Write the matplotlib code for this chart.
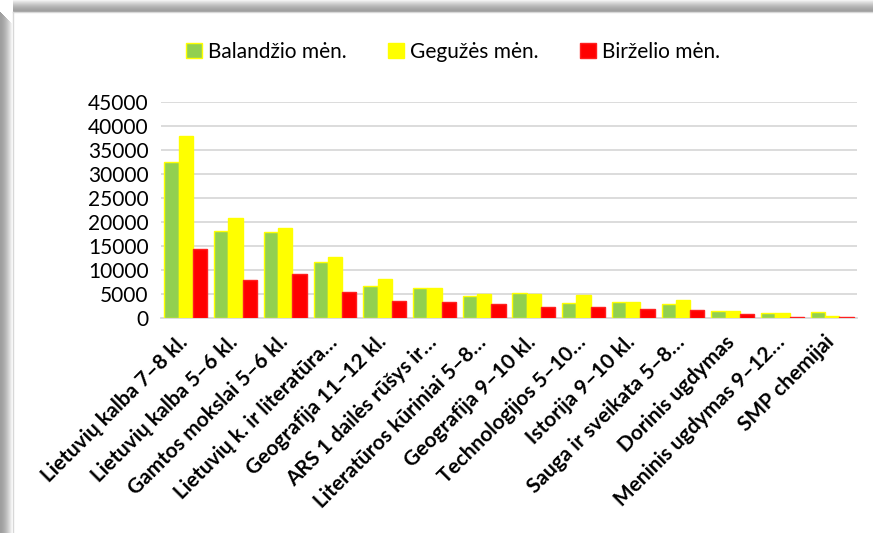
import numpy as np
import matplotlib
matplotlib.use('Agg')
import matplotlib.pyplot as plt
from matplotlib.patches import Rectangle
from matplotlib.transforms import ScaledTranslation

categories = [
    'Lietuvių kalba 7–8 kl.', 'Lietuvių kalba 5–6 kl.', 'Gamtos mokslai 5–6 kl.',
    'Lietuvių k. ir literatūra…', 'Geografija 11–12 kl.', 'ARS 1 dailės rūšys ir…',
    'Literatūros kūriniai 5–8…', 'Geografija 9–10 kl.', 'Technologijos 5–10…',
    'Istorija 9–10 kl.', 'Sauga ir sveikata 5–8…', 'Dorinis ugdymas',
    'Meninis ugdymas 9–12…', 'SMP chemijai',
]
balandzio = [32500, 18200, 17900, 11700, 6700, 6300, 4600, 5300, 3150, 3350, 2850, 1450, 1100, 1150]
geguzes = [38000, 20900, 18650, 12750, 8200, 6300, 5100, 4900, 4700, 3400, 3650, 1550, 1080, 500]
birzelio = [14400, 8000, 9250, 5350, 3600, 3250, 2900, 2300, 2300, 1850, 1600, 750, 220, 150]
series_names = ['Balandžio mėn.', 'Gegužės mėn.', 'Birželio mėn.']
colors = ['#92D050', '#FFFF00', '#FF0000']
edges = ['#FFFF00', '#FFFF00', '#FF2020']

plt.rcParams['font.family'] = ['Lato', 'DejaVu Sans']

fig = plt.figure(figsize=(8.73, 5.33), dpi=100)
W, H = 873, 533

# shadow of the chart frame (top and left)
for d in range(13):
    g = 0.62 + 0.38 * (d / 12.0) ** 1.6
    fig.patches.append(Rectangle((13 / W, (H - 12 + d) / H), 1 - 13 / W, 1 / H,
                                 transform=fig.transFigure, color=(g, g, g), lw=0, zorder=0))
    fig.patches.append(Rectangle((d / W, 0), 1 / W, (H - 12 - d) / H,
                                 transform=fig.transFigure, color=(g, g, g), lw=0, zorder=0))
fig.lines.append(plt.Line2D([13 / W, 1], [(H - 12) / H] * 2, transform=fig.transFigure, color='#d8d8d8', lw=1))
fig.lines.append(plt.Line2D([13 / W] * 2, [0, (H - 12) / H], transform=fig.transFigure, color='#d8d8d8', lw=1))

ax = fig.add_axes([161 / W, 1 - 318 / H, (857 - 161) / W, (318 - 102) / H])

x = np.arange(len(categories))
width = 0.288
for i, vals in enumerate([balandzio, geguzes, birzelio]):
    ax.bar(x + (i - 1) * width, vals, width, color=colors[i], edgecolor=edges[i],
           linewidth=1.0, label=series_names[i], zorder=3)

ax.set_xlim(-0.5, len(categories) - 0.5)
ax.set_ylim(0, 45000)
ax.set_yticks(np.arange(0, 45001, 5000))
ax.tick_params(axis='y', length=0, labelsize=15, pad=9)
ax.tick_params(axis='x', length=0, pad=5)
ax.set_xticks(x)
ax.set_xticklabels(categories, rotation=45, ha='right', va='top', rotation_mode='anchor',
                   fontsize=15, fontweight='bold')
shift = ScaledTranslation(-8 / 100, -7 / 100, fig.dpi_scale_trans)
for lab in ax.get_xticklabels():
    lab.set_transform(lab.get_transform() + shift)
ax.grid(axis='y', color='#D9D9D9', linewidth=1.3, zorder=0)
for s in ['top', 'right', 'left']:
    ax.spines[s].set_visible(False)
ax.spines['bottom'].set_color('#D9D9D9')
ax.spines['bottom'].set_linewidth(1.3)

ax.legend(loc='lower center', bbox_to_anchor=(0.42, 1.10), ncol=3, frameon=False,
          fontsize=15, handlelength=0.75, handleheight=0.75, handletextpad=0.3, columnspacing=2.0)

fig.savefig('out.png', dpi=100)
